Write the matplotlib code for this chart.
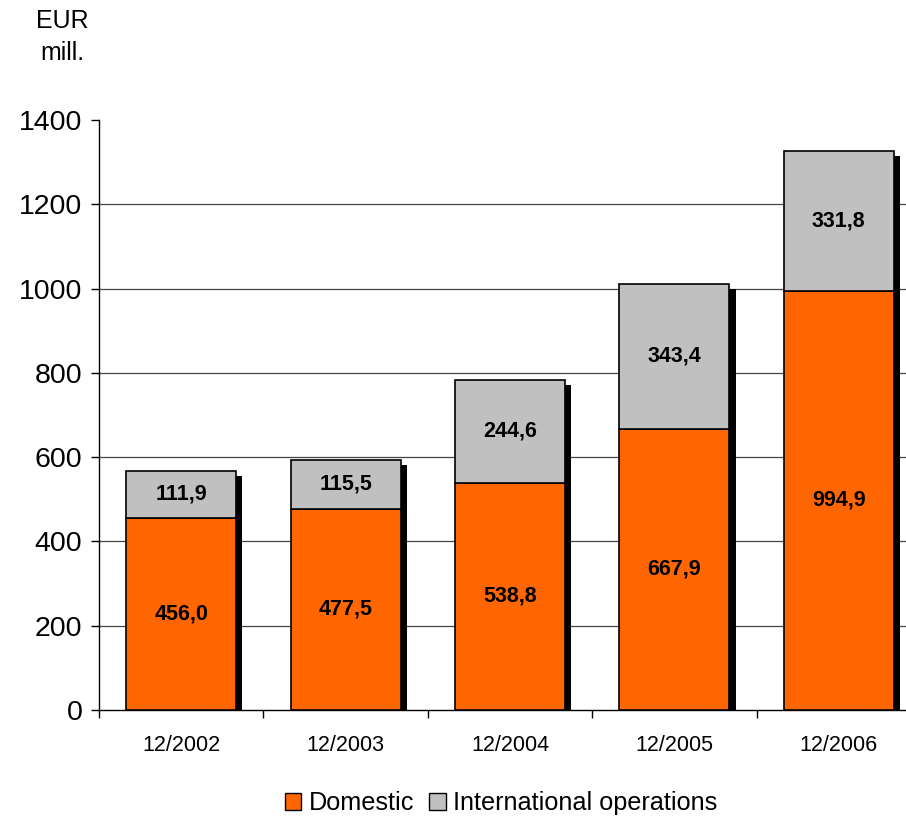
import numpy as np
import matplotlib.pyplot as plt
from matplotlib.patches import Patch

plt.rcParams['font.family'] = ['Liberation Sans', 'DejaVu Sans']

periods = ["12/2002", "12/2003", "12/2004", "12/2005", "12/2006"]
domestic = [456.0, 477.5, 538.8, 667.9, 994.9]
international = [111.9, 115.5, 244.6, 343.4, 331.8]

orange = "#FF6600"
grey = "#C0C0C0"

W, H = 906, 819
fig = plt.figure(figsize=(W / 100, H / 100), dpi=100)
# axes run a little past the right edge, like the cropped chart
left, right, bottom, top = 99, 921, 710, 120
ax = fig.add_axes([left / W, 1 - bottom / H, (right - left) / W, (bottom - top) / H])

x = np.arange(len(periods))
dom = np.array(domestic)
intl = np.array(international)
total = dom + intl
width = 0.67

# drop shadow behind each stack
ax.bar(x + 0.037, total - 12, width, color="black", zorder=2)
ax.bar(x, dom, width, color=orange, edgecolor="black", linewidth=1.2, zorder=3)
ax.bar(x, intl, width, bottom=dom, color=grey, edgecolor="black", linewidth=1.2, zorder=3)

for i in range(len(x)):
    ax.text(x[i], dom[i] / 2, f"{dom[i]:.1f}".replace(".", ","), ha="center", va="center",
            fontsize=15.5, fontweight="bold", zorder=4)
    ax.text(x[i], dom[i] + intl[i] / 2, f"{intl[i]:.1f}".replace(".", ","), ha="center",
            va="center", fontsize=15.5, fontweight="bold", zorder=4)

ax.set_xlim(-0.5, len(x) - 0.5)
ax.set_ylim(0, 1400)
ax.set_yticks(np.arange(0, 1401, 200))
ax.tick_params(axis="y", labelsize=20.5, length=6, width=1, direction="out", pad=6)
for yv in range(200, 1400, 200):
    ax.axhline(yv, color="#444444", linewidth=0.9, zorder=1)

ax.set_xticks(x)
ax.set_xticklabels(periods)
ax.tick_params(axis="x", which="major", length=0, labelsize=15.5, pad=18)
ax.set_xticks(np.arange(-0.5, len(x)), minor=True)
ax.tick_params(axis="x", which="minor", length=6, width=1, direction="out")

for s in ["top", "right"]:
    ax.spines[s].set_visible(False)
for s in ["left", "bottom"]:
    ax.spines[s].set_linewidth(1)

fig.text(62 / W, 1 - 21 / H, "EUR", ha="center", va="center", fontsize=18)
fig.text(62 / W, 1 - 53 / H, "mill.", ha="center", va="center", fontsize=18)

handles = [Patch(facecolor=orange, edgecolor="black", linewidth=1),
           Patch(facecolor=grey, edgecolor="black", linewidth=1)]
fig.legend(handles, ["Domestic", "International operations"], loc="center",
           bbox_to_anchor=(501 / W, 1 - 803 / H), ncol=2, frameon=False, fontsize=18.2,
           handlelength=0.65, handleheight=0.65, handletextpad=0.3, columnspacing=0.6)

fig.savefig("out.png", dpi=100)
